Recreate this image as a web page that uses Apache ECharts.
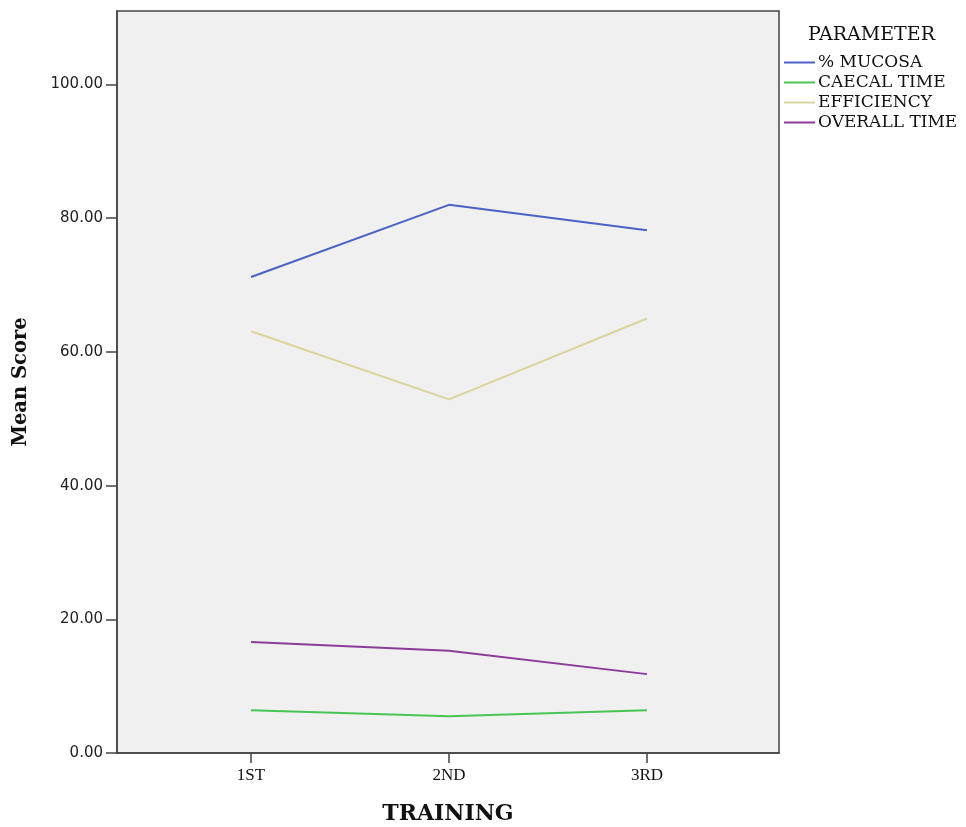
<!DOCTYPE html>
<html><head><meta charset="utf-8">
<script src="https://cdn.jsdelivr.net/npm/echarts@6/dist/echarts.min.js"></script>
<style>html,body{margin:0;padding:0;background:#fff}#c{width:966px;height:827px}</style>
</head><body><div id="c"></div>
<script>
const categories = ['1ST', '2ND', '3RD'];
const seriesNames = ['% MUCOSA', 'CAECAL TIME', 'EFFICIENCY', 'OVERALL TIME'];
const mucosa = [71.2, 82.0, 78.2];
const caecal = [6.4, 5.5, 6.4];
const efficiency = [63.1, 52.9, 65.0];
const overall = [16.6, 15.3, 11.8];
const yTicks = [0, 20, 40, 60, 80, 100];
const colors = ['#4a62c4', '#48c455', '#d9d59c', '#8b3b98'];
const values = [mucosa, caecal, efficiency, overall];

const chart = echarts.init(document.getElementById('c'));
const serif = '"DejaVu Serif", serif';
chart.setOption({
  animation: false,
  backgroundColor: '#fff',
  title: { text: 'PARAMETER', left: 803, top: 21, textStyle: { fontFamily: serif, fontSize: 19, fontWeight: 'normal', color: '#111' } },
  legend: {
    orient: 'vertical', left: 784, top: 54, padding: 0, itemGap: 3, itemWidth: 31, itemHeight: 2, icon: 'rect',
    textStyle: { fontFamily: serif, fontSize: 17, color: '#111', padding: [0,0,0,-2] },
    data: seriesNames
  },
  grid: { left: 117, top: 11, width: 662, height: 742, show: true, backgroundColor: '#f0f0f0', borderColor: '#444', borderWidth: 1.5, outerBoundsMode: 'none', containLabel: false },
  xAxis: {
    type: 'value', min: 0.323, max: 3.667,
    name: 'TRAINING', nameLocation: 'middle', nameGap: 50,
    nameTextStyle: { fontFamily: serif, fontWeight: 'bold', fontSize: 22, color: '#111' },
    axisLine: { show: true, lineStyle: { color: '#444', width: 1.5 } },
    splitLine: { show: false },
    axisTick: { show: true, length: 10, lineStyle: { color: '#444', width: 1.5 }, customValues: [1, 2, 3] },
    axisLabel: { customValues: [1, 2, 3], formatter: v => categories[Math.round(v) - 1], fontFamily: '"Liberation Serif", serif', fontSize: 17, color: '#111', margin: 14 }
  },
  yAxis: {
    type: 'value', min: 0, max: 111,
    name: 'Mean Score', nameLocation: 'middle', nameGap: 86,
    nameTextStyle: { fontFamily: serif, fontWeight: 'bold', fontSize: 19.5, color: '#111' },
    axisLine: { show: true, lineStyle: { color: '#444', width: 1.5 } },
    splitLine: { show: false },
    axisTick: { show: true, length: 11, lineStyle: { color: '#444', width: 1.5 }, customValues: yTicks },
    axisLabel: { customValues: yTicks, formatter: v => v.toFixed(2), fontFamily: '"DejaVu Sans", sans-serif', fontSize: 15, color: '#222', margin: 14 }
  },
  series: seriesNames.map((n, i) => ({
    name: n, type: 'line', data: values[i].map((v, j) => [j + 1, v]),
    showSymbol: false, symbol: 'none', color: colors[i], lineStyle: { width: 2, color: colors[i] }
  }))
});
</script></body></html>
